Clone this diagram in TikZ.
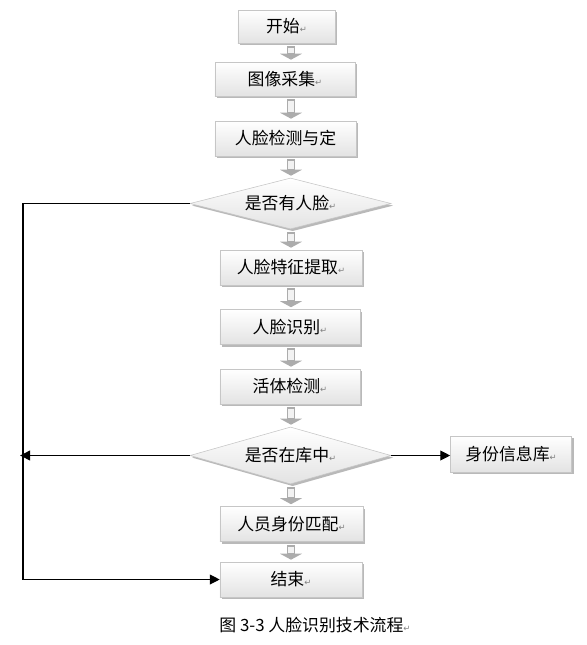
\documentclass[tikz,border=0pt]{standalone}
\usepackage{fontspec}
\setmainfont{Noto Sans CJK SC}
\newfontfamily\markfont{DejaVu Sans}
\usetikzlibrary{shapes.geometric,shadows,arrows.meta,calc}
\newcommand\pmark{{\markfont\fontsize{6pt}{6pt}\selectfont\textcolor{gray}{↵}}}
\tikzset{
  box/.style={rectangle,draw=gray!45,top color=white,bottom color=gray!22,
    drop shadow={shadow xshift=1.5pt,shadow yshift=-1.5pt,fill=gray!55,opacity=1},
    font=\fontsize{12pt}{14pt}\selectfont,inner sep=0pt},
  decision/.style={box,diamond,aspect=4},
  shaft/.style={draw=gray!65,fill=gray!10,line width=1.3pt},
  head/.style={fill=gray!65},
  line/.style={draw=black,line width=0.8pt}
}
\begin{document}
\begin{tikzpicture}[x=0.025cm,y=-0.025cm]
\useasboundingbox (0,0) rectangle (586,645);
\node[box,minimum width=2.425cm,minimum height=0.825cm] (start) at (286.5,26.5) {开始\pmark};
\node[box,minimum width=3.5cm,minimum height=0.85cm] (capture) at (285,79) {图像采集\pmark};
\node[box,minimum width=3.525cm,minimum height=0.875cm] (detect) at (285.5,138.5) {人脸检测与定};
\node[decision,minimum width=5.025cm,minimum height=1.275cm] (hasface) at (290.5,203.5) {是否有人脸\pmark};
\node[box,minimum width=3.55cm,minimum height=0.875cm] (feature) at (291,267.5) {人脸特征提取\pmark};
\node[box,minimum width=3.5cm,minimum height=0.875cm] (recog) at (290,327) {人脸识别\pmark};
\node[box,minimum width=3.5cm,minimum height=0.875cm] (live) at (290,386.5) {活体检测\pmark};
\node[decision,minimum width=5.025cm,minimum height=1.425cm] (indb) at (290.5,455.5) {是否在库中\pmark};
\node[box,minimum width=3.025cm,minimum height=0.9cm] (db) at (511,454) {身份信息库\pmark};
\node[box,minimum width=3.575cm,minimum height=0.875cm] (match) at (291.5,524) {人员身份匹配\pmark};
\node[box,minimum width=3.55cm,minimum height=0.875cm] (finish) at (291,579.5) {结束\pmark};
\node[font=\fontsize{12pt}{14pt}\selectfont] (caption) at (315,625) {图 3-3 人脸识别技术流程\pmark};
\coordinate (ax) at (291,0);
\coordinate (lft) at (23,0);
% gray block arrows
\foreach \a/\b in {start/capture,capture/detect,detect/hasface,hasface/feature,feature/recog,recog/live,live/indb,indb/match,match/finish} {
  \path (\a.south -| ax) coordinate (p) (\b.north -| ax) coordinate (q);
  \draw[shaft] ($(p)+(-3.5,4)$) rectangle ($(q)+(3.5,-8)$);
  \fill[head] ($(q)+(-11,-8)$) -- ($(q)+(11,-8)$) -- ($(q)+(0,-2)$) -- cycle;
}
\draw[line,-{Triangle[width=7pt,length=7pt]}] (hasface.west) -- (hasface.west -| lft) |- (finish.west);
\draw[line,-{Triangle[width=7pt,length=7pt]}] (indb.west) -- ([xshift=-2pt]indb.west -| lft);
\draw[line,-{Triangle[width=7pt,length=7pt]}] (indb.east) -- (indb.east -| db.west);
\end{tikzpicture}
\end{document}
